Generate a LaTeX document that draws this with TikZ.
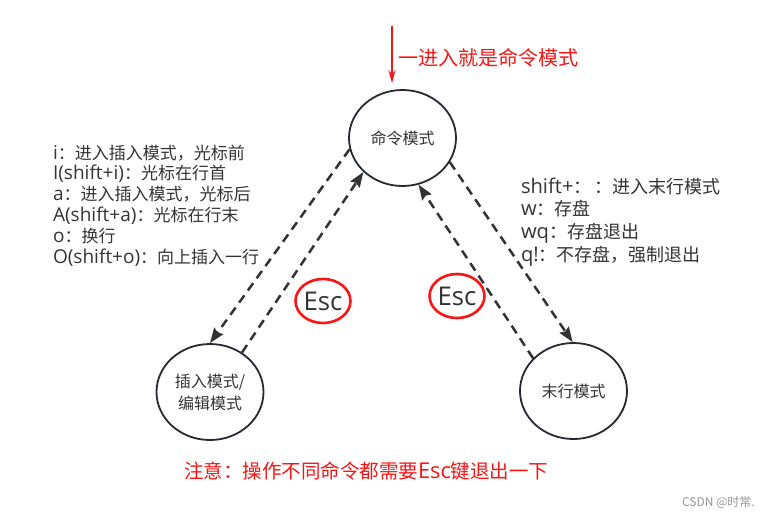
\documentclass[tikz,border=0pt]{standalone}
\usepackage{fontspec}
\newfontfamily\cjk{Noto Sans CJK SC}
\newfontfamily\latn[Scale=1.12]{Open Sans}
\usetikzlibrary{shapes.geometric,arrows.meta}
\definecolor{inkgrey}{RGB}{51,51,51}
\definecolor{edgegrey}{RGB}{38,42,48}
\definecolor{alertred}{RGB}{250,20,20}
\begin{document}
\begin{tikzpicture}[x=1pt,y=-1pt,
  modebox/.style={ellipse,draw=edgegrey,line width=1.8pt,minimum width=107pt,minimum height=96pt,inner sep=0pt,text=inkgrey,align=center,font=\cjk\fontsize{16}{22}\selectfont},
  keyring/.style={ellipse,draw=alertred,line width=2.6pt,minimum width=51pt,minimum height=44pt,inner sep=0pt,text=inkgrey,font=\latn\fontsize{23}{27}\selectfont},
  noteline/.style={inner sep=0pt,outer sep=0pt,anchor=base west,text=inkgrey,font=\cjk\fontsize{17}{20}\selectfont},
  switchline/.style={draw=inkgrey,line width=2.5pt,dash pattern=on 9pt off 6pt,-{Stealth[length=15pt,width=11pt,inset=2pt]}}]
\path[use as bounding box] (0,0) rectangle (774,515);
\node[modebox] (cmd) at (402.5,138) {命令模式};
\node[modebox] (ins) at (210,392) {插入模式/\\编辑模式};
\node[modebox] (last) at (573.5,391) {末行模式};
\node[keyring] (escl) at (323,301) {Esc};
\node[keyring] (escr) at (457,296) {Esc};
\coordinate (entry) at (392,26);
\draw[draw=alertred,line width=1.5pt,-{Stealth[length=13pt,width=7pt]},shorten >=6pt] (entry) -- (entry |- cmd.north);
\node[inner sep=0pt,outer sep=0pt,anchor=base west,text=alertred,font=\cjk\fontsize{20}{24}\selectfont] (entrytext) at (398,65.5) {一进入就是命令模式};
\draw[switchline] (cmd.192) -- (ins.90);
\draw[switchline] (ins.51) -- (cmd.221);
\draw[switchline] (cmd.333) -- (last.91);
\draw[switchline] (last.141) -- (cmd.289);
\node[noteline] (ins1) at (53,159) {{\latn i}：进入插入模式，光标前};
\node[noteline] (ins2) at (53,179.8) {{\latn I(shift+i)}：光标在行首};
\node[noteline] (ins3) at (53,200.6) {{\latn a}：进入插入模式，光标后};
\node[noteline] (ins4) at (53,221.4) {{\latn A(shift+a)}：光标在行末};
\node[noteline] (ins5) at (53,242.2) {{\latn o}：换行};
\node[noteline] (ins6) at (53,263) {{\latn O(shift+o)}：向上插入一行};
\node[noteline,font=\cjk\fontsize{18}{21}\selectfont] (last1) at (521,193) {{\latn shift+}：\,：进入末行模式};
\node[noteline,font=\cjk\fontsize{18}{21}\selectfont] (last2) at (521,215.7) {{\latn w}：存盘};
\node[noteline,font=\cjk\fontsize{18}{21}\selectfont] (last3) at (521,238.4) {{\latn wq}：存盘退出};
\node[noteline,font=\cjk\fontsize{18}{21}\selectfont] (last4) at (521,261) {{\latn q!}：不存盘，强制退出};
\node[inner sep=0pt,outer sep=0pt,anchor=base west,text=alertred,font=\cjk\fontsize{19.5}{23}\selectfont] (warn) at (184,478) {注意：操作不同命令都需要{\latn Esc}键退出一下};
\node[inner sep=0pt,outer sep=0pt,anchor=base west,text={rgb,255:red,150;green,150;blue,150},font=\cjk\fontsize{12}{14}\selectfont] (mark) at (682,506) {CSDN @时常.};
\end{tikzpicture}
\end{document}
